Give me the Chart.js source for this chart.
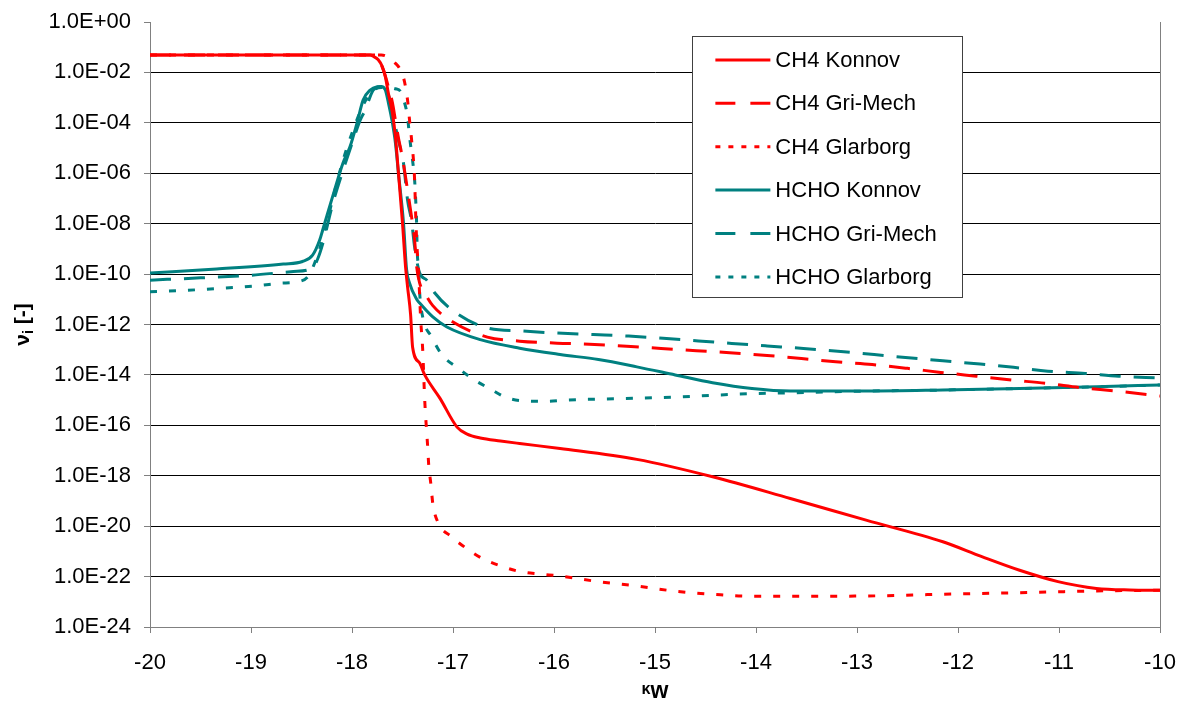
<!DOCTYPE html>
<html><head><meta charset="utf-8">
<script src="https://cdn.jsdelivr.net/npm/chart.js@4.4.1/dist/chart.umd.min.js"></script>
<style>html,body{margin:0;padding:0;background:#fff;} canvas{display:block;}</style>
</head><body>
<canvas id="c" width="1185" height="702" style="width:1185px;height:702px"></canvas>
<script>
// ---- data (x = κw, values stored as log10 of ν_i) ----
const seriesNames = ['CH4 Konnov','CH4 Gri-Mech','CH4 Glarborg','HCHO Konnov','HCHO Gri-Mech','HCHO Glarborg'];
const xTickValues = [-20,-19,-18,-17,-16,-15,-14,-13,-12,-11,-10];
const yTickExponents = [0,-2,-4,-6,-8,-10,-12,-14,-16,-18,-20,-22,-24];

const ch4KonnovX = [-20.00,-18.50,-17.82,-17.79,-17.74,-17.70,-17.67,-17.64,-17.60,-17.57,-17.54,-17.50,-17.47,-17.45,-17.42,-17.40,-17.33,-17.28,-17.13,-16.96,-16.86,-16.73,-16.53,-16.34,-15.94,-15.18,-14.43,-13.66,-12.91,-12.15,-11.77,-11.39,-11.01,-10.63,-10.30,-10.00];
const ch4KonnovLog = [-1.31,-1.31,-1.31,-1.36,-1.50,-1.77,-2.17,-2.83,-3.60,-4.55,-6.00,-7.98,-9.70,-10.50,-11.60,-12.90,-13.53,-14.00,-14.92,-16.07,-16.35,-16.50,-16.62,-16.72,-16.92,-17.35,-18.04,-18.90,-19.76,-20.62,-21.20,-21.75,-22.20,-22.47,-22.53,-22.54];

const ch4GriX = [-20.00,-18.50,-17.77,-17.69,-17.64,-17.60,-17.57,-17.54,-17.50,-17.45,-17.41,-17.38,-17.36,-17.33,-17.28,-17.20,-17.00,-16.66,-16.34,-15.97,-15.65,-15.28,-14.94,-14.59,-14.26,-13.89,-13.55,-13.21,-12.85,-12.50,-12.17,-11.82,-11.47,-11.12,-10.78,-10.44,-10.08,-10.00];
const ch4GriLog = [-1.31,-1.31,-1.31,-1.90,-2.57,-3.20,-3.90,-4.60,-5.40,-6.67,-7.74,-8.65,-9.70,-10.36,-10.75,-11.25,-11.90,-12.50,-12.66,-12.74,-12.78,-12.86,-12.95,-13.04,-13.12,-13.23,-13.35,-13.48,-13.59,-13.74,-13.90,-14.05,-14.20,-14.34,-14.51,-14.64,-14.80,-14.84];

const ch4GlarX = [-20.00,-18.50,-17.71,-17.62,-17.57,-17.54,-17.50,-17.48,-17.45,-17.43,-17.41,-17.38,-17.37,-17.36,-17.34,-17.33,-17.32,-17.30,-17.28,-17.25,-17.24,-17.22,-17.20,-17.15,-17.02,-16.86,-16.70,-16.51,-16.34,-16.14,-15.94,-15.56,-15.18,-14.80,-14.43,-14.06,-13.66,-12.91,-12.15,-11.39,-10.63,-10.00];
const ch4GlarLog = [-1.31,-1.31,-1.31,-1.45,-1.64,-1.77,-2.10,-2.37,-3.10,-3.90,-4.68,-6.27,-7.58,-8.65,-9.96,-10.90,-11.80,-13.00,-15.00,-16.90,-17.60,-18.30,-19.10,-19.84,-20.40,-20.90,-21.30,-21.60,-21.80,-21.90,-21.98,-22.20,-22.37,-22.58,-22.70,-22.78,-22.78,-22.77,-22.70,-22.64,-22.57,-22.54];

const hchoKonnovX = [-20.00,-19.34,-18.68,-18.49,-18.39,-18.32,-18.29,-18.19,-18.09,-18.02,-17.95,-17.89,-17.82,-17.75,-17.71,-17.67,-17.64,-17.60,-17.57,-17.54,-17.49,-17.46,-17.43,-17.36,-17.33,-17.20,-17.06,-16.73,-16.34,-15.94,-15.56,-15.18,-14.80,-14.43,-14.04,-13.66,-12.90,-12.15,-11.39,-10.63,-10.00];
const hchoKonnovLog = [-9.96,-9.80,-9.60,-9.50,-9.25,-8.65,-8.25,-6.90,-5.60,-4.95,-4.00,-3.10,-2.70,-2.57,-2.56,-2.70,-3.20,-4.00,-4.80,-6.00,-7.98,-9.80,-10.36,-11.00,-11.15,-11.70,-12.10,-12.60,-12.94,-13.19,-13.39,-13.68,-14.00,-14.31,-14.54,-14.64,-14.64,-14.60,-14.54,-14.47,-14.40];

const hchoGriX = [-20.00,-19.50,-19.01,-18.58,-18.39,-18.34,-18.29,-18.19,-18.09,-17.99,-17.92,-17.87,-17.79,-17.72,-17.65,-17.59,-17.54,-17.49,-17.45,-17.41,-17.38,-17.33,-17.26,-17.18,-17.00,-16.66,-16.31,-15.97,-15.61,-15.26,-14.92,-14.57,-14.24,-13.89,-13.53,-13.19,-12.83,-12.49,-12.15,-11.78,-11.45,-11.11,-10.74,-10.41,-10.00];
const hchoGriLog = [-10.24,-10.15,-10.05,-9.90,-9.76,-9.40,-8.80,-7.20,-5.90,-4.70,-3.90,-3.50,-2.70,-2.57,-2.75,-3.80,-4.70,-5.60,-7.06,-7.90,-8.93,-9.96,-10.24,-10.75,-11.45,-12.14,-12.26,-12.34,-12.40,-12.46,-12.55,-12.65,-12.75,-12.85,-12.95,-13.06,-13.19,-13.32,-13.44,-13.57,-13.70,-13.85,-13.94,-14.05,-14.12];

const hchoGlarX = [-20.00,-19.67,-19.28,-18.91,-18.71,-18.51,-18.42,-18.29,-18.19,-18.09,-17.99,-17.89,-17.80,-17.71,-17.64,-17.57,-17.52,-17.48,-17.45,-17.43,-17.40,-17.38,-17.37,-17.36,-17.355,-17.34,-17.33,-17.30,-17.21,-17.11,-16.96,-16.80,-16.63,-16.47,-16.27,-16.07,-15.89,-15.34,-14.76,-14.39,-14.01,-13.62,-13.26,-12.90,-12.15,-11.39,-10.63,-10.00];
const hchoGlarLog = [-10.70,-10.65,-10.56,-10.45,-10.36,-10.28,-10.00,-8.60,-7.00,-5.50,-4.30,-3.30,-2.75,-2.60,-2.60,-2.65,-2.75,-3.20,-3.76,-4.56,-5.50,-6.27,-7.00,-8.00,-9.00,-9.80,-10.75,-11.70,-12.50,-13.20,-13.70,-14.17,-14.56,-14.90,-15.04,-15.05,-15.00,-14.94,-14.87,-14.80,-14.74,-14.71,-14.67,-14.64,-14.60,-14.54,-14.47,-14.40];

// ---- styles ----
const RED = '#FF0000', TEAL = '#008080';
const FONT = '"Liberation Sans", Arial, Helvetica, sans-serif';
const DASH = [21, 13], DOT = [7, 12];
const LEG_DASH = [20, 15], LEG_DOT = [5, 8];

function pts(xs, logs) { return xs.map((x, i) => ({ x: x, y: Math.pow(10, logs[i]) })); }

const seriesData = [
  pts(ch4KonnovX, ch4KonnovLog), pts(ch4GriX, ch4GriLog), pts(ch4GlarX, ch4GlarLog),
  pts(hchoKonnovX, hchoKonnovLog), pts(hchoGriX, hchoGriLog), pts(hchoGlarX, hchoGlarLog)
];
const seriesColors = [RED, RED, RED, TEAL, TEAL, TEAL];
const seriesDash = [[], DASH, DOT, [], DASH, DOT];
const legendDash = [[], LEG_DASH, LEG_DOT, [], LEG_DASH, LEG_DOT];

const datasets = seriesData.map((d, i) => ({
  label: seriesNames[i], data: d, borderColor: seriesColors[i], backgroundColor: seriesColors[i],
  borderWidth: 3, borderDash: seriesDash[i], pointRadius: 0, fill: false,
  cubicInterpolationMode: 'monotone', borderCapStyle: 'butt', borderJoinStyle: 'round', legendDash: legendDash[i]
}));

function fmtExp(v) {
  const e = Math.round(Math.log10(v));
  return '1.0E' + (e < 0 ? '-' : '+') + String(Math.abs(e)).padStart(2, '0');
}

const decorPlugin = {
  id: 'decor',
  afterDraw(chart) {
    const c = chart.ctx, a = chart.chartArea;
    const W = a.right - a.left, H = a.bottom - a.top;
    c.save();
    // right frame line
    c.strokeStyle = '#808080'; c.lineWidth = 1;
    c.beginPath(); c.moveTo(Math.round(a.right) + 0.5, a.top); c.lineTo(Math.round(a.right) + 0.5, a.bottom); c.stroke();

    // legend
    const lx = a.left + 0.537 * W, ly = a.top + 0.023 * H;
    const lw = 0.267 * W, lh = 0.4315 * H;
    c.fillStyle = '#fff'; c.fillRect(lx, ly, lw, lh);
    c.strokeStyle = '#404040'; c.lineWidth = 1;
    c.strokeRect(Math.round(lx) + 0.5, Math.round(ly) + 0.5, Math.round(lw), Math.round(lh));
    c.font = '22px ' + FONT; c.textBaseline = 'middle'; c.textAlign = 'left';
    chart.data.datasets.forEach((ds, i) => {
      const y = ly + 24 + i * 43.4;
      c.strokeStyle = ds.borderColor; c.lineWidth = 3; c.setLineDash(ds.legendDash);
      c.beginPath(); c.moveTo(lx + 23, y); c.lineTo(lx + 78, y); c.stroke();
      c.setLineDash([]);
      c.fillStyle = '#000'; c.fillText(ds.label, lx + 83, y + 1);
    });

    // y title  ν_i [-]
    c.save();
    c.translate(22, (a.top + a.bottom) / 2);
    c.rotate(-Math.PI / 2);
    c.fillStyle = '#000'; c.textBaseline = 'alphabetic'; c.textAlign = 'left';
    const fBig = 'bold 21px ' + FONT, fSmall = 'bold 14px ' + FONT;
    c.font = fBig; const w1 = c.measureText('ν').width;
    c.font = fSmall; const w2 = c.measureText('i').width;
    c.font = fBig; const w3 = c.measureText(' [-]').width;
    let x0 = -(w1 + w2 + w3) / 2;
    c.font = fBig; c.fillText('ν', x0, 7);
    c.font = fSmall; c.fillText('i', x0 + w1, 11);
    c.font = fBig; c.fillText(' [-]', x0 + w1 + w2, 7);
    c.restore();

    // x title  κw
    c.fillStyle = '#000'; c.textBaseline = 'alphabetic'; c.textAlign = 'left';
    c.font = 'bold 16px ' + FONT; const k1 = c.measureText('κ').width;
    c.font = 'bold 23px ' + FONT; const k2 = c.measureText('w').width;
    const cx = (a.left + a.right) / 2 - (k1 + k2) / 2;
    c.font = 'bold 16px ' + FONT; c.fillText('κ', cx, 694);
    c.font = 'bold 23px ' + FONT; c.fillText('w', cx + k1, 698);
    c.restore();
  }
};

new Chart(document.getElementById('c'), {
  type: 'line',
  data: { datasets: datasets },
  options: {
    responsive: false, animation: false, devicePixelRatio: 1,
    layout: { padding: { left: 0, right: 25, top: 22, bottom: 0 } },
    scales: {
      x: {
        type: 'linear', min: -20, max: -10,
        afterBuildTicks(s) { s.ticks = xTickValues.map(v => ({ value: v })); },
        ticks: { color: '#000', font: { family: FONT, size: 22 }, padding: 17, maxRotation: 0, autoSkip: false,
                 callback: v => String(v) },
        grid: { drawOnChartArea: false, drawTicks: true, tickLength: 6, color: '#808080', tickColor: '#808080' },
        border: { color: '#808080', width: 1 },
        afterFit(s) { s.height = 75; s.paddingLeft = 0; s.paddingRight = 0; }
      },
      y: {
        type: 'logarithmic', min: 1e-24, max: 1,
        afterBuildTicks(s) { s.ticks = yTickExponents.map(e => ({ value: Math.pow(10, e) })); },
        ticks: { color: '#000', font: { family: FONT, size: 22 }, padding: 13, autoSkip: false,
                 callback: v => fmtExp(v) },
        grid: { color: ctx => (ctx.tick && ctx.tick.value === 1) ? 'rgba(0,0,0,0)' : '#000', lineWidth: 1,
                tickLength: 6, tickColor: '#808080' },
        border: { color: '#808080', width: 1 },
        afterFit(s) { s.width = 150; s.paddingTop = 0; s.paddingBottom = 0; }
      }
    },
    plugins: { legend: { display: false }, tooltip: { enabled: false }, title: { display: false } }
  },
  plugins: [decorPlugin]
});
</script></body></html>
